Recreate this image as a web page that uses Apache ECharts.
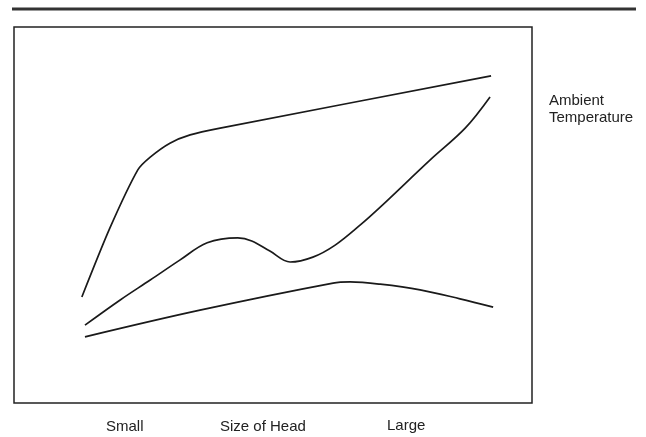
<!DOCTYPE html>
<html>
<head>
<meta charset="utf-8">
<script src="https://cdn.jsdelivr.net/npm/echarts@6/dist/echarts.min.js"></script>
<style>
html,body{margin:0;padding:0;background:#fff;}
#main{width:646px;height:437px;}
</style>
</head>
<body>
<div id="main"></div>
<script>
// head size (0-100) vs temperature (0-100)
var upperX = [13.1, 18.5, 23.9, 26.3, 30.1, 34.0, 39.8, 92.1];
var upperY = [28.2, 46.5, 62.0, 65.4, 69.1, 71.3, 73.1, 87.0];

var middleX = [13.7, 20.5, 26.3, 32.0, 37.3, 43.2, 45.9, 49.4, 53.3, 57.7, 62.0, 66.8, 70.7, 80.3, 87.1, 91.9];
var middleY = [20.7, 27.4, 32.7, 38.0, 42.6, 43.9, 43.1, 40.4, 37.5, 38.8, 42.0, 47.3, 52.1, 64.6, 73.1, 81.4];

var lowerX = [13.7, 35.9, 61.6, 64.9, 70.7, 78.4, 86.1, 92.5];
var lowerY = [17.6, 24.7, 31.9, 32.2, 31.6, 30.1, 27.7, 25.5];

var axisLabels = ['Small', 'Size of Head', 'Large'];
var sideLabel = 'Ambient\nTemperature';

function pairs(xs, ys){
	var out = [];
	for(var i=0;i<xs.length;i++){
		out.push([xs[i], ys[i]]);
	}
	return out;
}

var chart = echarts.init(document.getElementById('main'));
var font = '"Liberation Sans", Arial, sans-serif';

function curve(name, xs, ys, smooth){
	return {
		name: name,
		type: 'line',
		smooth: smooth,
		symbol: 'none',
		lineStyle: {color: '#1a1a1a', width: 1.7},
		data: pairs(xs, ys)
	};
}

function label(text, left, top){
	return {type: 'text', left: left, top: top,
		style: {text: text, font: '15px ' + font, fill: '#222', lineHeight: 17}};
}

var option = {
	animation: false,
	grid: {
		left: 14, top: 27, width: 518, height: 376,
		show: true, borderColor: '#222', borderWidth: 1.5, backgroundColor: '#fff'
	},
	xAxis: {type: 'value', min: 0, max: 100, show: false},
	yAxis: {type: 'value', min: 0, max: 100, show: false},
	graphic: [
		{type: 'line', shape: {x1: 12, y1: 9, x2: 636, y2: 9}, style: {stroke: '#333', lineWidth: 3}},
		label(axisLabels[0], 106, 418),
		label(axisLabels[1], 220, 418),
		label(axisLabels[2], 387, 417),
		label(sideLabel, 549, 92)
	],
	series: [
		curve('upper', upperX, upperY, 0.25),
		curve('middle', middleX, middleY, 0.35),
		curve('lower', lowerX, lowerY, 0.35)
	]
};
chart.setOption(option);
</script>
</body>
</html>
